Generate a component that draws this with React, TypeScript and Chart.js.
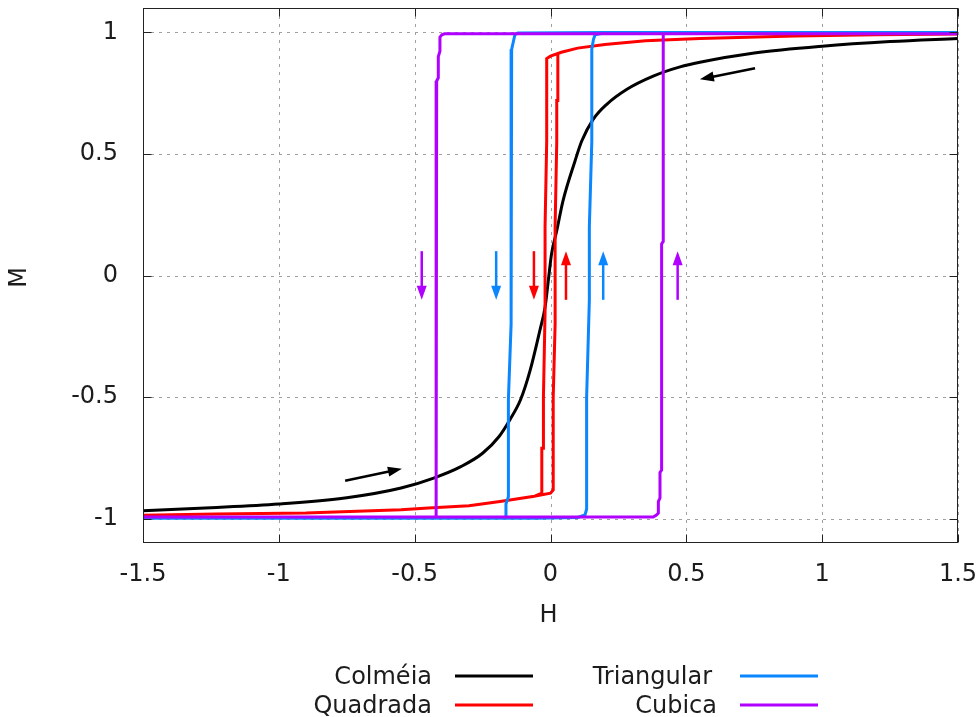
import React, { useEffect, useRef } from "react";
import { Chart, registerables } from "chart.js";

Chart.register(...registerables);

// ---------- data ----------
const xTicks = [-1.5, -1, -0.5, 0, 0.5, 1, 1.5];
const yTicks = [-1, -0.5, 0, 0.5, 1];
const xTitle = "H";
const yTitle = "M";
const seriesNames = ["Colméia", "Quadrada", "Triangular", "Cubica"];
const seriesColors = ["#000000", "#ff0000", "#0a86ff", "#b000ff"];

// Colméia (single S-curve)
const colmeiaH = [-1.5, -1.25, -1, -0.75, -0.55, -0.43, -0.33, -0.25, -0.19, -0.15, -0.11, -0.075, -0.039, -0.02, -0.008, 0.004, 0.023, 0.046, 0.09, 0.115, 0.157, 0.207, 0.28, 0.378, 0.477, 0.55, 0.75, 1, 1.25, 1.5];
const colmeiaM = [-0.967, -0.955, -0.94, -0.914, -0.874, -0.833, -0.786, -0.731, -0.663, -0.594, -0.51, -0.39, -0.225, -0.13, -0.02, 0.09, 0.184, 0.307, 0.47, 0.553, 0.642, 0.704, 0.765, 0.82, 0.858, 0.877, 0.915, 0.943, 0.962, 0.975];

// Quadrada loop: descending branch then ascending branch
const quadradaH = [
  1.5, 1.2, 0.9, 0.55, 0.35, 0.2, 0.1, 0.04, 0.0, -0.014, -0.014, -0.02, -0.02, -0.026, -0.026, -0.032, -0.032, -0.06, -0.186, -0.3, -0.45, -0.55, -0.9, -1.23, -1.5,
  -1.5, -1.23, -0.9, -0.55, -0.45, -0.3, -0.186, -0.06, 0.0, 0.01, 0.01, 0.017, 0.017, 0.023, 0.023, 0.027, 0.027, 0.04, 0.1, 0.2, 0.35, 0.55, 0.9, 1.2, 1.5,
];
const quadradaM = [
  0.993, 0.99, 0.985, 0.975, 0.965, 0.95, 0.935, 0.918, 0.902, 0.892, 0.55, 0.2, -0.15, -0.5, -0.71, -0.71, -0.895, -0.908, -0.929, -0.947, -0.956, -0.963, -0.977, -0.981, -0.986,
  -0.986, -0.981, -0.977, -0.963, -0.956, -0.947, -0.929, -0.908, -0.895, -0.882, -0.5, -0.2, 0.2, 0.55, 0.72, 0.72, 0.912, 0.918, 0.935, 0.95, 0.965, 0.975, 0.985, 0.99, 0.993,
];

// Triangular loop
const triangularH = [
  1.5, 0.2, -0.12, -0.131, -0.137, -0.143, -0.145, -0.145, -0.155, -0.155, -0.164, -0.164, -0.2, -1.5,
  -1.5, -0.05, 0.1, 0.127, 0.133, 0.133, 0.143, 0.143, 0.152, 0.152, 0.158, 0.164, 0.2, 1.5,
];
const triangularM = [
  0.999, 0.999, 0.997, 0.99, 0.96, 0.93, 0.3, -0.2, -0.51, -0.91, -0.94, -0.997, -0.998, -0.998,
  -0.998, -0.998, -0.995, -0.985, -0.96, -0.5, -0.1, 0.2, 0.55, 0.93, 0.97, 0.99, 0.998, 0.999,
];

// Cubica loop
const cubicaH = [
  1.5, -0.39, -0.4, -0.407, -0.407, -0.413, -0.413, -0.419, -0.421, -1.5,
  -1.5, 0.378, 0.39, 0.397, 0.397, 0.403, 0.403, 0.409, 0.409, 0.415, 0.415, 0.42, 1.5,
];
const cubicaM = [
  0.994, 0.994, 0.99, 0.98, 0.922, 0.9, 0.813, 0.8, -0.993, -0.993,
  -0.993, -0.993, -0.985, -0.977, -0.93, -0.915, -0.81, -0.8, 0.13, 0.14, 0.99, 0.994, 0.994,
];

// arrows (data coordinates) and the series whose colour they take
const arrowFromH = [0.753, -0.756, -0.474, -0.2, -0.061, 0.057, 0.194, 0.468];
const arrowFromM = [0.852, -0.844, 0.1, 0.1, 0.1, -0.1, -0.1, -0.1];
const arrowToH = [0.55, -0.547, -0.474, -0.2, -0.061, 0.057, 0.194, 0.468];
const arrowToM = [0.807, -0.795, -0.1, -0.1, -0.1, 0.1, 0.1, 0.1];
const arrowSeries = [0, 0, 3, 2, 1, 1, 2, 3];

const seriesH = [colmeiaH, quadradaH, triangularH, cubicaH];
const seriesM = [colmeiaM, quadradaM, triangularM, cubicaM];

// ---------- layout/style ----------
const FONT = "'DejaVu Sans', sans-serif";
const FONT_SIZE = 24;
const TEXT_COLOR = "#1c1c1c";

const legendLayout = [
  { textRight: 432, y: 676, lineX1: 455, lineX2: 533 },
  { textRight: 432, y: 705, lineX1: 455, lineX2: 533 },
  { textRight: 712, y: 676, lineX1: 740, lineX2: 818 },
  { textRight: 717, y: 705, lineX1: 740, lineX2: 818 },
];

function drawArrow(ctx: CanvasRenderingContext2D, x1: number, y1: number, x2: number, y2: number, color: string) {
  const ang = Math.atan2(y2 - y1, x2 - x1);
  const len = 14;
  const hw = 5;
  const bx = x2 - len * Math.cos(ang);
  const by = y2 - len * Math.sin(ang);
  ctx.strokeStyle = color;
  ctx.lineWidth = 2.5;
  ctx.setLineDash([]);
  ctx.beginPath();
  ctx.moveTo(x1, y1);
  ctx.lineTo(bx + 2 * Math.cos(ang), by + 2 * Math.sin(ang));
  ctx.stroke();
  ctx.fillStyle = color;
  ctx.beginPath();
  ctx.moveTo(x2, y2);
  ctx.lineTo(bx + hw * Math.sin(ang), by - hw * Math.cos(ang));
  ctx.lineTo(bx - hw * Math.sin(ang), by + hw * Math.cos(ang));
  ctx.closePath();
  ctx.fill();
}

const decorPlugin = {
  id: "gnuplotDecor",
  beforeDatasetsDraw(chart: any) {
    const { ctx, chartArea: a, scales } = chart;
    const x = scales.x;
    const y = scales.y;
    ctx.save();
    ctx.strokeStyle = "#a0a0a0";
    ctx.lineWidth = 1;
    ctx.setLineDash([3, 5]);
    for (const v of xTicks) {
      const px = Math.round(x.getPixelForValue(v)) + 0.5;
      ctx.beginPath();
      ctx.moveTo(px, a.top);
      ctx.lineTo(px, a.bottom);
      ctx.stroke();
    }
    for (const v of yTicks) {
      const py = Math.round(y.getPixelForValue(v)) + 0.5;
      ctx.beginPath();
      ctx.moveTo(a.left, py);
      ctx.lineTo(a.right, py);
      ctx.stroke();
    }
    ctx.restore();
  },
  afterDatasetsDraw(chart: any) {
    const { ctx, chartArea: a, scales } = chart;
    const x = scales.x;
    const y = scales.y;
    ctx.save();
    for (let i = 0; i < arrowFromH.length; i++) {
      drawArrow(
        ctx,
        x.getPixelForValue(arrowFromH[i]),
        y.getPixelForValue(arrowFromM[i]),
        x.getPixelForValue(arrowToH[i]),
        y.getPixelForValue(arrowToM[i]),
        seriesColors[arrowSeries[i]]
      );
    }
    ctx.setLineDash([]);
    ctx.strokeStyle = "#222222";
    ctx.lineWidth = 1;
    const l = Math.round(a.left) + 0.5;
    const r = Math.round(a.right) - 0.5;
    const t = Math.round(a.top) + 0.5;
    const b = Math.round(a.bottom) - 0.5;
    ctx.strokeRect(l, t, r - l, b - t);
    const tl = 8;
    ctx.beginPath();
    for (const v of xTicks) {
      const px = Math.round(x.getPixelForValue(v)) + 0.5;
      ctx.moveTo(px, b);
      ctx.lineTo(px, b - tl);
      ctx.moveTo(px, t);
      ctx.lineTo(px, t + tl);
    }
    for (const v of yTicks) {
      const py = Math.round(y.getPixelForValue(v)) + 0.5;
      ctx.moveTo(l, py);
      ctx.lineTo(l + tl, py);
      ctx.moveTo(r, py);
      ctx.lineTo(r - tl, py);
    }
    ctx.stroke();
    ctx.restore();
  },
  afterDraw(chart: any) {
    const { ctx, chartArea: a } = chart;
    ctx.save();
    ctx.fillStyle = TEXT_COLOR;
    ctx.font = `${FONT_SIZE}px ${FONT}`;
    ctx.textAlign = "center";
    ctx.textBaseline = "middle";
    ctx.fillText(xTitle, (a.left + a.right) / 2 - 2, 616);
    ctx.save();
    ctx.translate(20, (a.top + a.bottom) / 2 + 2);
    ctx.rotate(-Math.PI / 2);
    ctx.fillText(yTitle, 0, 0);
    ctx.restore();
    ctx.textAlign = "right";
    ctx.textBaseline = "alphabetic";
    for (let i = 0; i < seriesNames.length; i++) {
      const L = legendLayout[i];
      ctx.fillStyle = TEXT_COLOR;
      ctx.fillText(seriesNames[i], L.textRight, L.y + 8);
      ctx.strokeStyle = seriesColors[i];
      ctx.lineWidth = 3;
      ctx.beginPath();
      ctx.moveTo(L.lineX1, L.y);
      ctx.lineTo(L.lineX2, L.y);
      ctx.stroke();
    }
    ctx.restore();
  },
};

export default function App() {
  const canvasRef = useRef<HTMLCanvasElement | null>(null);

  useEffect(() => {
    if (!canvasRef.current) return;
    const datasets = seriesNames.map((name, i) => ({
      label: name,
      data: seriesH[i].map((h, k) => ({ x: h, y: seriesM[i][k] })),
      showLine: true,
      borderColor: seriesColors[i],
      backgroundColor: seriesColors[i],
      borderWidth: 3,
      pointRadius: 0,
      pointHoverRadius: 0,
      tension: 0,
      cubicInterpolationMode: i === 0 ? "monotone" : "default",
      fill: false,
      order: seriesNames.length - i,
    }));

    const tickFont = { family: FONT, size: FONT_SIZE };

    const chart = new Chart(canvasRef.current, {
      type: "scatter",
      data: { datasets },
      options: {
        animation: false,
        responsive: false,
        devicePixelRatio: 1,
        layout: { padding: { left: 0, right: 21, top: 8, bottom: 0 } },
        plugins: { legend: { display: false }, tooltip: { enabled: false } },
        events: [],
        scales: {
          x: {
            type: "linear",
            min: -1.5,
            max: 1.5,
            grid: { display: false, drawTicks: false },
            border: { display: false },
            afterBuildTicks: (s: any) => {
              s.ticks = xTicks.map((v) => ({ value: v }));
            },
            afterFit: (s: any) => {
              s.height = 174;
              s.paddingLeft = 0;
              s.paddingRight = 0;
            },
            ticks: {
              font: tickFont,
              color: TEXT_COLOR,
              padding: 17,
              maxRotation: 0,
              autoSkip: false,
              callback: (v: any) => String(v),
            },
          },
          y: {
            type: "linear",
            min: -1.1,
            max: 1.1,
            grid: { display: false, drawTicks: false },
            border: { display: false },
            afterBuildTicks: (s: any) => {
              s.ticks = yTicks.map((v) => ({ value: v }));
            },
            afterFit: (s: any) => {
              s.width = 143;
              s.paddingTop = 0;
              s.paddingBottom = 0;
            },
            ticks: {
              font: tickFont,
              color: TEXT_COLOR,
              padding: 25,
              autoSkip: false,
              callback: (v: any) => String(v),
            },
          },
        },
      },
      plugins: [decorPlugin],
    } as any);

    return () => chart.destroy();
  }, []);

  return (
    <div style={{ position: "fixed", left: 0, top: 0, width: 979, height: 717, background: "#ffffff" }}>
      <canvas ref={canvasRef} width={979} height={717} style={{ display: "block" }} />
    </div>
  );
}
